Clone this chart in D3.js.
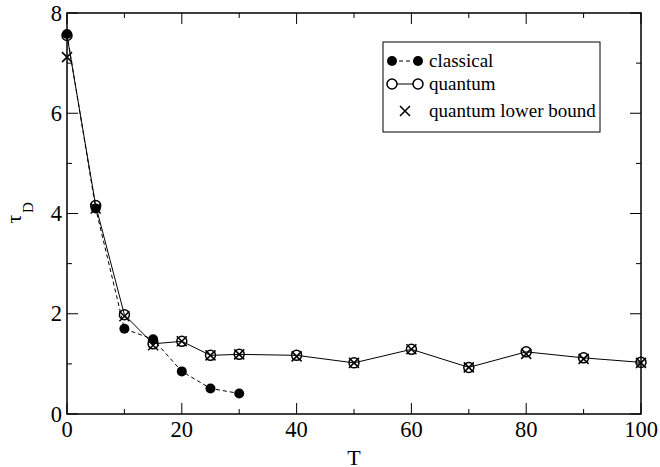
<!DOCTYPE html>
<html>
<head>
<meta charset="utf-8">
<script src="https://cdn.jsdelivr.net/npm/d3@7"></script>
<style>
  body { margin: 0; background: #fff; }
  svg { display: block; font-family: "Liberation Serif", "Times New Roman", serif; }
</style>
</head>
<body>
<svg width="660" height="467"></svg>
<script>
// data
var classicalT = [0, 5, 10, 15, 20, 25, 30];
var classicalTau = [7.58, 4.1, 1.7, 1.49, 0.85, 0.51, 0.41];

var quantumT = [0, 5, 10, 15, 20, 25, 30, 40, 50, 60, 70, 80, 90, 100];
var quantumTau = [7.55, 4.16, 1.98, 1.4, 1.45, 1.17, 1.19, 1.17, 1.02, 1.29, 0.93, 1.24, 1.12, 1.03];
var lowerTau = [7.12, 4.1, 1.95, 1.37, 1.45, 1.17, 1.19, 1.15, 1.02, 1.29, 0.93, 1.2, 1.1, 1.02];

var xTicks = [0, 20, 40, 60, 80, 100];
var yTicks = [0, 2, 4, 6, 8];
var legendLabels = ["classical", "quantum", "quantum lower bound"];

const svg = d3.select("svg");
var pLeft = 67, pRight = 641, pTop = 13, pBottom = 414;

var x = d3.scaleLinear().domain([0, 100]).range([pLeft, pRight]);
var y = d3.scaleLinear().domain([0, 8]).range([pBottom, pTop]);

// frame
svg.append("rect")
  .attr("x", pLeft).attr("y", pTop)
  .attr("width", pRight - pLeft).attr("height", pBottom - pTop)
  .attr("fill", "none").attr("stroke", "#000").attr("stroke-width", 1.5);

// inward ticks on all sides
var xMinor = d3.range(10, 100, 20);
var yMinor = d3.range(1, 8, 2);
function xtick(v, len) {
  svg.append("line").attr("x1", x(v)).attr("x2", x(v)).attr("y1", pBottom).attr("y2", pBottom - len).attr("stroke", "#000");
  svg.append("line").attr("x1", x(v)).attr("x2", x(v)).attr("y1", pTop).attr("y2", pTop + len).attr("stroke", "#000");
}
function ytick(v, len) {
  svg.append("line").attr("y1", y(v)).attr("y2", y(v)).attr("x1", pLeft).attr("x2", pLeft + len).attr("stroke", "#000");
  svg.append("line").attr("y1", y(v)).attr("y2", y(v)).attr("x1", pRight).attr("x2", pRight - len).attr("stroke", "#000");
}
xTicks.forEach(function(v) { xtick(v, 11); });
xMinor.forEach(function(v) { xtick(v, 5); });
yTicks.forEach(function(v) { ytick(v, 11); });
yMinor.forEach(function(v) { ytick(v, 5); });

svg.selectAll(".xl").data(xTicks).enter().append("text")
  .attr("x", function(d) { return x(d); }).attr("y", pBottom + 23)
  .attr("text-anchor", "middle").attr("font-size", 22.5).text(function(d) { return d; });
svg.selectAll(".yl").data(yTicks).enter().append("text")
  .attr("x", pLeft - 5).attr("y", function(d) { return y(d) + 7.5; })
  .attr("text-anchor", "end").attr("font-size", 22.5).text(function(d) { return d; });

// axis titles
svg.append("text").attr("x", (pLeft + pRight) / 2).attr("y", 465)
  .attr("text-anchor", "middle").attr("font-size", 22).text("T");
var yt = svg.append("g").attr("transform", "translate(21,219) rotate(-90)");
yt.append("text").attr("text-anchor", "middle").attr("font-size", 22).text("τ");
yt.append("text").attr("x", 6).attr("y", 12).attr("font-size", 15).text("D");

var line = d3.line().x(function(d) { return x(d[0]); }).y(function(d) { return y(d[1]); });
var classical = d3.zip(classicalT, classicalTau);
var quantum = d3.zip(quantumT, quantumTau);
var lower = d3.zip(quantumT, lowerTau);

svg.append("path").datum(classical).attr("d", line)
  .attr("fill", "none").attr("stroke", "#000").attr("stroke-dasharray", "4,3");
svg.append("path").datum(quantum).attr("d", line)
  .attr("fill", "none").attr("stroke", "#000");

function cross(g, cx, cy, s) {
  g.append("path").attr("d", "M" + (cx - s) + "," + (cy - s) + "L" + (cx + s) + "," + (cy + s) +
    "M" + (cx - s) + "," + (cy + s) + "L" + (cx + s) + "," + (cy - s))
    .attr("stroke", "#000").attr("stroke-width", 1.5);
}

svg.selectAll(".cl").data(classical).enter().append("circle")
  .attr("cx", function(d) { return x(d[0]); }).attr("cy", function(d) { return y(d[1]); })
  .attr("r", 5).attr("fill", "#000");
svg.selectAll(".qu").data(quantum).enter().append("circle")
  .attr("cx", function(d) { return x(d[0]); }).attr("cy", function(d) { return y(d[1]); })
  .attr("r", 5).attr("fill", "none").attr("stroke", "#000").attr("stroke-width", 1.5);
lower.forEach(function(d) { cross(svg, x(d[0]), y(d[1]), 5); });

// legend
var lg = svg.append("g");
lg.append("rect").attr("x", 383).attr("y", 42).attr("width", 217).attr("height", 90)
  .attr("fill", "#fff").attr("stroke", "#000");
var rows = [61, 84, 111];
var sx1 = 392, sx2 = 418;
lg.append("line").attr("x1", sx1).attr("x2", sx2).attr("y1", rows[0]).attr("y2", rows[0])
  .attr("stroke", "#000").attr("stroke-dasharray", "4,3");
lg.append("circle").attr("cx", sx1).attr("cy", rows[0]).attr("r", 5).attr("fill", "#000");
lg.append("circle").attr("cx", sx2).attr("cy", rows[0]).attr("r", 5).attr("fill", "#000");
lg.append("line").attr("x1", sx1).attr("x2", sx2).attr("y1", rows[1]).attr("y2", rows[1]).attr("stroke", "#000");
lg.append("circle").attr("cx", sx1).attr("cy", rows[1]).attr("r", 5).attr("fill", "#fff").attr("stroke", "#000").attr("stroke-width", 1.5);
lg.append("circle").attr("cx", sx2).attr("cy", rows[1]).attr("r", 5).attr("fill", "#fff").attr("stroke", "#000").attr("stroke-width", 1.5);
cross(lg, (sx1 + sx2) / 2, rows[2], 5);
lg.selectAll(".lt").data(legendLabels).enter().append("text")
  .attr("x", 429).attr("y", function(d, i) { return rows[i] + 6; })
  .attr("font-size", 19).text(function(d) { return d; });
</script>
</body>
</html>
